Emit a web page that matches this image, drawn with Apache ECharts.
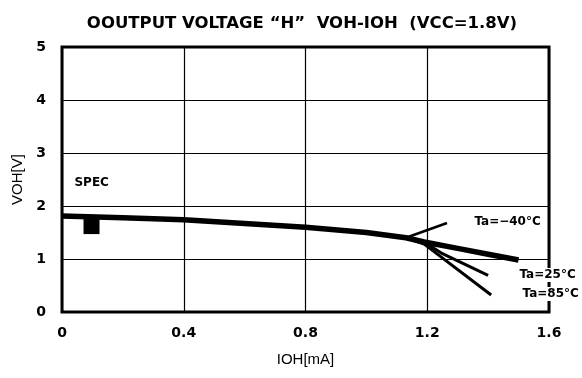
<!DOCTYPE html>
<html>
<head>
<meta charset="utf-8">
<script src="https://cdn.jsdelivr.net/npm/echarts@6/dist/echarts.min.js"></script>
<style>
  html, body { margin: 0; padding: 0; background: #fff; }
  #chart { width: 582px; height: 378px; }
</style>
</head>
<body>
<div id="chart"></div>
<script>
// Output voltage "H" characteristic, VOH vs IOH at VCC = 1.8 V
const xTicks = [0, 0.4, 0.8, 1.2, 1.6];
const yTicks = [0, 1, 2, 3, 4, 5];

// Ta = -40 °C (drawn bold; the three curves overlap up to ~1.19 mA)
const iohM40 = [0, 0.2, 0.4, 0.6, 0.8, 1.0, 1.13, 1.19, 1.3, 1.4, 1.5];
const vohM40 = [1.81, 1.78, 1.74, 1.67, 1.60, 1.50, 1.40, 1.32, 1.20, 1.09, 0.98];

// Ta = 25 °C
const ioh25 = [0, 0.2, 0.4, 0.6, 0.8, 1.0, 1.13, 1.19, 1.25, 1.40];
const voh25 = [1.81, 1.78, 1.74, 1.67, 1.60, 1.50, 1.40, 1.32, 1.10, 0.69];

// Ta = 85 °C
const ioh85 = [0, 0.2, 0.4, 0.6, 0.8, 1.0, 1.13, 1.19, 1.41];
const voh85 = [1.81, 1.78, 1.74, 1.67, 1.60, 1.50, 1.40, 1.28, 0.32];

// Spec marker
const specPoint = [0.097, 1.64];

// Annotation texts and where they sit (data coordinates, text starts at the point)
const noteTexts = ['SPEC', 'Ta=−40°C', 'Ta=25°C', 'Ta=85°C'];
const noteIoh = [0.036, 1.35, 1.498, 1.508];
const noteVoh = [2.43, 1.70, 0.70, 0.34];

// Leader from the -40 °C label to its curve
const leaderIoh = [1.13, 1.265];
const leaderVoh = [1.40, 1.68];

const toPairs = (xs, ys) => xs.map((x, i) => [x, ys[i]]);

const font = '"DejaVu Sans", "Liberation Sans", sans-serif';
const chart = echarts.init(document.getElementById('chart'));

chart.setOption({
  backgroundColor: '#fff',
  animation: false,
  title: {
    text: 'OOUTPUT VOLTAGE “H”  VOH-IOH  (VCC=1.8V)',
    left: 297,
    textAlign: 'center',
    top: 10,
    textStyle: { fontFamily: font, fontSize: 16.5, fontWeight: 'bold', color: '#000' }
  },
  grid: {
    left: 62, right: 33, top: 47, bottom: 66,
    show: true, borderColor: '#000', borderWidth: 3, backgroundColor: '#fff'
  },
  xAxis: {
    type: 'value',
    min: xTicks[0], max: xTicks[xTicks.length - 1], interval: 0.4,
    name: 'IOH[mA]',
    nameLocation: 'middle',
    nameGap: 40,
    nameTextStyle: { fontFamily: '"Liberation Sans", Arial, sans-serif', fontSize: 15, color: '#000' },
    axisLine: { show: false },
    axisTick: { show: false },
    axisLabel: { margin: 14, fontFamily: font, fontSize: 14, fontWeight: 'bold', color: '#000' },
    splitLine: { show: true, lineStyle: { color: '#000', width: 1.2 } }
  },
  yAxis: {
    type: 'value',
    min: yTicks[0], max: yTicks[yTicks.length - 1], interval: 1,
    name: 'VOH[V]',
    nameLocation: 'middle',
    nameGap: 32,
    nameTextStyle: { fontFamily: '"Liberation Sans", Arial, sans-serif', fontSize: 15, color: '#000' },
    axisLine: { show: false },
    axisTick: { show: false },
    axisLabel: { margin: 16, fontFamily: font, fontSize: 14, fontWeight: 'bold', color: '#000' },
    splitLine: { show: true, lineStyle: { color: '#000', width: 1.2 } }
  },
  series: [
    {
      name: 'spec',
      type: 'scatter',
      data: [specPoint],
      symbol: 'rect',
      symbolSize: [16, 18],
      itemStyle: { color: '#000', opacity: 1 },
      z: 2
    },
    {
      name: 'Ta=85°C',
      type: 'line',
      data: toPairs(ioh85, voh85),
      showSymbol: false,
      lineStyle: { color: '#000', width: 3 },
      z: 3
    },
    {
      name: 'Ta=25°C',
      type: 'line',
      data: toPairs(ioh25, voh25),
      showSymbol: false,
      lineStyle: { color: '#000', width: 3 },
      z: 3
    },
    {
      name: 'Ta=-40°C',
      type: 'line',
      data: toPairs(iohM40, vohM40),
      showSymbol: false,
      lineStyle: { color: '#000', width: 5.5 },
      z: 4
    },
    {
      name: 'leader',
      type: 'line',
      data: toPairs(leaderIoh, leaderVoh),
      showSymbol: false,
      lineStyle: { color: '#000', width: 2.5 },
      z: 3
    },
    {
      name: 'notes',
      type: 'scatter',
      data: noteTexts.map((t, i) => ({ value: [noteIoh[i], noteVoh[i]], name: t })),
      symbol: 'circle',
      symbolSize: 1,
      itemStyle: { color: 'rgba(0,0,0,0)', opacity: 1 },
      label: {
        show: true, position: 'right', distance: 0,
        formatter: p => p.name,
        fontFamily: font, fontSize: 12, fontWeight: 'bold', color: '#000', opacity: 1,
        backgroundColor: '#fff', padding: [1, 1]
      },
      z: 5
    }
  ]
});
</script>
</body>
</html>
